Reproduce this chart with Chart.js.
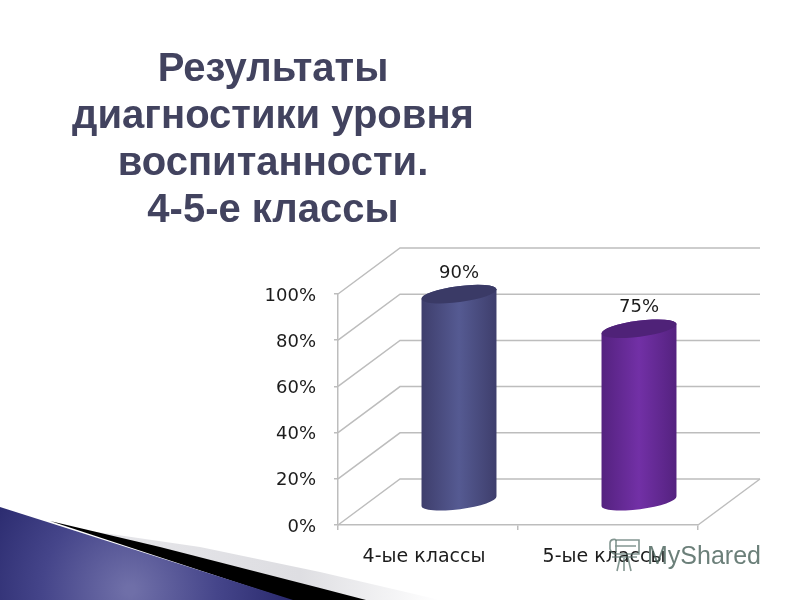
<!DOCTYPE html>
<html>
<head>
<meta charset="utf-8">
<title>Результаты диагностики уровня воспитанности</title>
<style>
  html, body { margin: 0; padding: 0; background: #fff; }
  #wrap { position: relative; width: 800px; height: 600px; overflow: hidden; }
  #heading {
    position: absolute; left: 23px; top: 44px; width: 500px; margin: 0;
    text-align: center; font: bold 40px/47px "Liberation Sans", Arial, sans-serif; color: #42435f;
  }
  #mark {
    position: absolute; left: 647px; top: 538px;
    font: 25px/34px "Liberation Sans", sans-serif; color: rgba(70, 95, 88, 0.8);
  }
  #markIcon { position: absolute; left: 607px; top: 537px; }
</style>
<script src="https://cdn.jsdelivr.net/npm/chart.js@4"></script>
</head>
<body>
<div id="wrap">
  <canvas id="myChart" width="800" height="600"></canvas>
  <h1 id="heading">Результаты<br>диагностики уровня<br>воспитанности.<br>4-5-е классы</h1>
  <svg id="markIcon" width="36" height="36" fill="none" stroke="rgba(90,115,108,0.75)" stroke-width="1.6">
    <path d="M3 6 C3 2 8 2 9 3 L32 3 L32 17 L9 17 C6 17 4 15 3 12 Z"/>
    <path d="M9 3 L9 15 M8 9 L29 9 M5 20 L30 20"/>
    <path d="M17 21 L17 34 M13 21 L10 34 M21 21 L24 34"/>
  </svg>
  <div id="mark">MyShared</div>
</div>
<script>
// Chart data
const categories = ["4-ые классы", "5-ые классы"];
const percentValues = [90, 75];
const barColors = ["#555a92", "#7230a6"];
const barEdgeColors = ["#3e3e6c", "#54227f"];
const barTopColors = ["#3a3a66", "#4f2278"];

// 3d look
const depthX = 62;
const depthY = -46;
const gridColor = "#bdbdbd";
const labelFont = '18px "DejaVu Sans", sans-serif';

// Blue wedge in the bottom corner of the slide
const slideCorner = {
  id: "slideCorner",
  beforeDraw(chart) {
    const ctx = chart.ctx;
    ctx.save();

    const fade = ctx.createLinearGradient(90, 0, 440, 0);
    fade.addColorStop(0, "#e6e6ea");
    fade.addColorStop(0.6, "#dedee2");
    fade.addColorStop(1, "#ffffff");
    ctx.fillStyle = fade;
    ctx.beginPath();
    ctx.moveTo(90, 531);
    ctx.lineTo(200, 547);
    ctx.lineTo(320, 572);
    ctx.lineTo(440, 600);
    ctx.lineTo(300, 600);
    ctx.closePath();
    ctx.fill();

    ctx.fillStyle = "#000";
    ctx.beginPath();
    ctx.moveTo(50, 521);
    ctx.lineTo(160, 547);
    ctx.lineTo(320, 588);
    ctx.lineTo(366, 600);
    ctx.lineTo(290, 600);
    ctx.closePath();
    ctx.fill();

    const blue = ctx.createRadialGradient(130, 590, 5, 130, 590, 170);
    blue.addColorStop(0, "#6f6fa8");
    blue.addColorStop(0.5, "#45458a");
    blue.addColorStop(1, "#26266a");
    ctx.fillStyle = blue;
    ctx.beginPath();
    ctx.moveTo(0, 507);
    ctx.lineTo(293, 600);
    ctx.lineTo(0, 600);
    ctx.closePath();
    ctx.fill();
    ctx.restore();
  }
};

// Side wall, back wall and floor, taken from the scales
const walls = {
  id: "walls",
  beforeDatasetsDraw(chart) {
    const ctx = chart.ctx;
    const y = chart.scales.y;
    const area = chart.chartArea;
    ctx.save();
    ctx.strokeStyle = gridColor;
    ctx.lineWidth = 1.5;
    y.ticks.forEach(t => {
      const py = y.getPixelForValue(t.value);
      ctx.beginPath();
      ctx.moveTo(area.left, py);
      ctx.lineTo(area.left + depthX, py + depthY);
      ctx.lineTo(area.right + depthX, py + depthY);
      ctx.stroke();
    });
    ctx.beginPath();
    ctx.moveTo(area.right, area.bottom);
    ctx.lineTo(area.right + depthX, area.bottom + depthY);
    ctx.stroke();
    ctx.restore();
  }
};

// Bars drawn as cylinders from the bar elements
const cylinders = {
  id: "cylinders",
  beforeDatasetDraw(chart, args) {
    const ctx = chart.ctx;
    const meta = args.meta;
    const rot = -0.13;
    meta.data.forEach((bar, i) => {
      const cx = bar.x + depthX / 2;
      const top = bar.y + depthY / 2;
      const bottom = bar.base + depthY / 2;
      const rx = bar.width / 2;
      const ry = 8;

      const side = ctx.createLinearGradient(cx - rx, 0, cx + rx, 0);
      side.addColorStop(0, barEdgeColors[i]);
      side.addColorStop(0.5, barColors[i]);
      side.addColorStop(1, barEdgeColors[i]);

      ctx.save();
      ctx.fillStyle = side;
      ctx.beginPath();
      ctx.ellipse(cx, top, rx, ry, rot, Math.PI, 2 * Math.PI);
      ctx.ellipse(cx, bottom, rx, ry, rot, 0, Math.PI);
      ctx.closePath();
      ctx.fill();

      ctx.fillStyle = barTopColors[i];
      ctx.beginPath();
      ctx.ellipse(cx, top, rx, ry, rot, 0, 2 * Math.PI);
      ctx.fill();

      ctx.fillStyle = "#1c1c1c";
      ctx.font = labelFont;
      ctx.textAlign = "center";
      ctx.textBaseline = "middle";
      ctx.fillText(percentValues[i] + "%", cx, top - 21);
      ctx.restore();
    });
    return false;
  }
};

const myChart = new Chart(document.getElementById("myChart"), {
  type: "bar",
  data: {
    labels: categories,
    datasets: [{
      data: percentValues,
      backgroundColor: barColors,
      barPercentage: 0.42,
      categoryPercentage: 1
    }]
  },
  options: {
    responsive: false,
    animation: false,
    layout: { padding: { top: 294, right: 102, left: 0, bottom: 0 } },
    plugins: { legend: { display: false }, title: { display: false }, tooltip: { enabled: false } },
    scales: {
      x: {
        afterFit: s => { s.height = 75; },
        grid: { drawOnChartArea: false, color: gridColor, lineWidth: 1.5, tickLength: 5, offset: true },
        border: { color: gridColor, width: 1.5 },
        ticks: { color: "#1c1c1c", font: { family: "DejaVu Sans", size: 19 }, padding: 16, labelOffset: -4 }
      },
      y: {
        min: 0,
        max: 100,
        afterFit: s => { s.width = 338; },
        grid: { drawOnChartArea: false, color: gridColor, lineWidth: 1.5, tickLength: 4 },
        border: { color: gridColor, width: 1.5 },
        ticks: {
          stepSize: 20,
          color: "#1c1c1c",
          font: { family: "DejaVu Sans", size: 18 },
          padding: 18,
          labelOffset: 2,
          callback: v => v + "%"
        }
      }
    }
  },
  plugins: [slideCorner, walls, cylinders]
});
</script>
</body>
</html>
